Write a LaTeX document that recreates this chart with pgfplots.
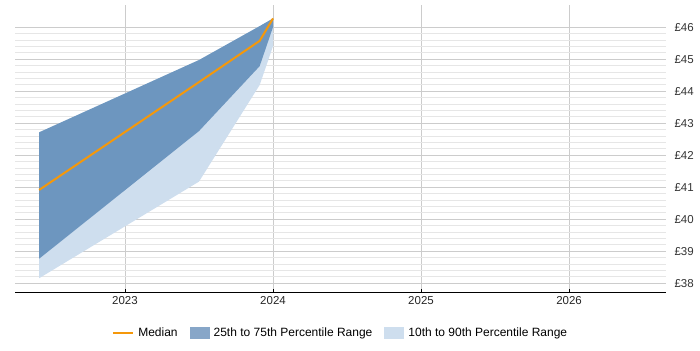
\documentclass[border=0pt]{standalone}
\usepackage{pgfplots}
\pgfplotsset{compat=1.18}
\usepackage{fontspec}
\setmainfont{Liberation Sans}

\definecolor{iqr}{HTML}{6D96BF}
\definecolor{iqrleg}{HTML}{87A6C8}
\definecolor{idr}{HTML}{CEDEEE}
\definecolor{medc}{HTML}{F5980A}
\definecolor{majgrid}{HTML}{CCCCCC}
\definecolor{mingrid}{HTML}{E6E6E6}

\pgfplotsset{
  swatch/.style={legend image code/.code={\fill[##1, draw=none] (0bp,-6bp) rectangle (20bp,6bp);}},
  lineswatch/.style={legend image code/.code={\draw[##1, line width=2.5bp] (0bp,0bp) -- (20bp,0bp);}},
}

\begin{document}
\begin{tikzpicture}[x=1bp,y=1bp]
\path[use as bounding box] (0,0) rectangle (700,350);
\begin{axis}[
  at={(15bp,58bp)}, anchor=south west,
  scale only axis, width=651bp, height=287bp,
  xmin=2022.257, xmax=2026.655,
  ymin=37.72, ymax=46.69,
  font=\fontsize{11.5bp}{13bp}\selectfont,
  axis x line*=bottom,
  axis y line*=right,
  y axis line style={draw=none},
  x axis line style={black, line width=0.8pt},
  xtick={2023,2024,2025,2026},
  xticklabels={2023,2024,2025,2026},
  ytick={38,39,40,41,42,43,44,45,46},
  yticklabels={£38,£39,£40,£41,£42,£43,£44,£45,£46},
  minor y tick num=4,
  xmajorgrids, ymajorgrids, yminorgrids,
  major grid style={majgrid, line width=0.6pt},
  minor grid style={mingrid, line width=0.6pt},
  xtick style={black, line width=0.6pt},
  major tick length=3bp,
  minor tick length=0pt,
  ytick style={draw=none},
  yticklabel style={anchor=west, xshift=5bp, text=black!80},
  xticklabel style={text=black!85, yshift=-1bp},
  legend style={at={(0.5,-41bp)}, anchor=center, draw=none, fill=none,
    font=\fontsize{12bp}{14bp}\selectfont, legend columns=3,
    /tikz/every odd column/.append style={column sep=2bp},
    /tikz/every even column/.append style={column sep=10bp}},
  legend cell align=left,
]
% 10th to 90th percentile band
\addplot[fill=idr, draw=none, forget plot] coordinates {
  (2022.42,42.71) (2023.5,44.97) (2023.91,46.03) (2024.0,46.27)
  (2024.0,45.40) (2023.91,44.19) (2023.5,41.17) (2022.42,38.15)
} -- cycle;
% 25th to 75th percentile band
\addplot[fill=iqr, draw=none, forget plot] coordinates {
  (2022.42,42.71) (2023.5,44.97) (2023.91,46.03) (2024.0,46.27)
  (2024.0,46.00) (2023.91,44.78) (2023.5,42.75) (2022.42,38.76)
} -- cycle;
% median
\addplot[medc, line width=2bp, mark=none, lineswatch] coordinates {
  (2022.42,40.91) (2023.5,44.28) (2023.91,45.57) (2024.0,46.27)
};
\addlegendentry{Median}
\addlegendimage{swatch, fill=iqrleg}
\addlegendentry{25th to 75th Percentile Range}
\addlegendimage{swatch, fill=idr}
\addlegendentry{10th to 90th Percentile Range}
\end{axis}
\end{tikzpicture}
\end{document}
